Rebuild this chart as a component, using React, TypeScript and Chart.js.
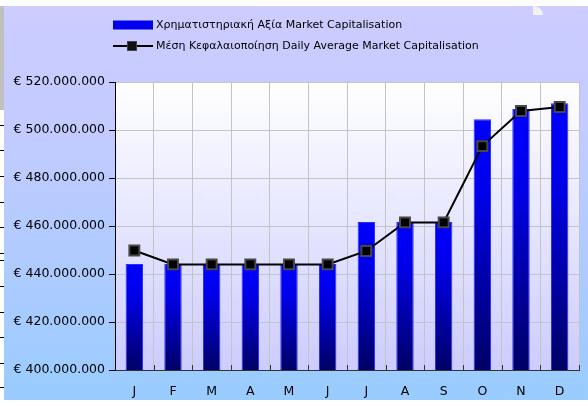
import React, { useEffect, useRef } from "react";
import { Chart, registerables } from "chart.js";

Chart.register(...registerables);

const months = ["J", "F", "M", "A", "M", "J", "J", "A", "S", "O", "N", "D"];
const marketCap = [444.2e6, 444.2e6, 444.2e6, 444.2e6, 444.2e6, 444.2e6, 461.7e6, 461.7e6, 461.7e6, 504.5e6, 508.8e6, 511.1e6];
const dailyAvg = [449.8e6, 444.0e6, 444.0e6, 444.0e6, 444.0e6, 444.0e6, 449.6e6, 461.5e6, 461.5e6, 493.3e6, 507.9e6, 509.6e6];
const barLabel = "Χρηματιστηριακή Αξία Market Capitalisation";
const lineLabel = "Μέση Κεφαλαιοποίηση Daily Average Market Capitalisation";
const yMin = 400e6;
const yMax = 520e6;
const yStep = 20e6;

const FONT = "'DejaVu Sans', sans-serif";

function fmt(v: number): string {
  const s = Math.round(v).toString().replace(/\B(?=(\d{3})+(?!\d))/g, ".");
  return "€ " + s;
}

const plotBgPlugin = {
  id: "plotBg",
  beforeDraw(chart: any) {
    const { ctx, chartArea } = chart;
    if (!chartArea) return;
    const g = ctx.createLinearGradient(0, chartArea.top, 0, chartArea.bottom);
    g.addColorStop(0, "#ffffff");
    g.addColorStop(1, "#ccccff");
    ctx.save();
    ctx.fillStyle = g;
    ctx.fillRect(chartArea.left, chartArea.top, chartArea.right - chartArea.left, chartArea.bottom - chartArea.top);
    ctx.restore();
  },
  afterDraw(chart: any) {
    const { ctx, chartArea } = chart;
    ctx.save();
    ctx.strokeStyle = "#333333";
    ctx.lineWidth = 1;
    const n = months.length;
    const w = (chartArea.right - chartArea.left) / n;
    for (let i = 1; i <= n; i++) {
      const x = Math.round(chartArea.left + i * w) + 0.5;
      ctx.beginPath();
      ctx.moveTo(x, chartArea.bottom - 5);
      ctx.lineTo(x, chartArea.bottom);
      ctx.stroke();
    }
    ctx.restore();
  },
};

const legendPlugin = {
  id: "customLegend",
  afterDraw(chart: any) {
    const { ctx } = chart;
    const ds = chart.data.datasets;
    ctx.save();
    ctx.font = "11px " + FONT;
    ctx.textBaseline = "middle";
    const bx = 113;
    const y1 = 25;
    ctx.fillStyle = "#0000ee";
    ctx.fillRect(bx, y1 - 4.5, 40, 9);
    ctx.fillStyle = "#000";
    ctx.fillText(ds[1].label, 156, y1);
    const y2 = 46;
    ctx.strokeStyle = "#000";
    ctx.lineWidth = 2;
    ctx.beginPath();
    ctx.moveTo(bx, y2);
    ctx.lineTo(bx + 40, y2);
    ctx.stroke();
    ctx.fillStyle = "#111";
    ctx.fillRect(bx + 15, y2 - 4, 8, 8);
    ctx.strokeStyle = "#444";
    ctx.lineWidth = 1;
    ctx.strokeRect(bx + 14.5, y2 - 4.5, 9, 9);
    ctx.fillStyle = "#000";
    ctx.fillText(ds[0].label, 156, y2);
    ctx.restore();
  },
};

export default function App() {
  const ref = useRef<HTMLCanvasElement | null>(null);
  useEffect(() => {
    const canvas = ref.current;
    if (!canvas) return;
    const chart = new Chart(canvas, {
      type: "bar",
      data: {
        labels: months,
        datasets: [
          {
            type: "line",
            label: lineLabel,
            data: dailyAvg,
            borderColor: "#000000",
            borderWidth: 2,
            pointStyle: "rect",
            pointRadius: 7,
            pointBackgroundColor: "#000000",
            pointBorderColor: "#474747",
            pointBorderWidth: 2,
            tension: 0,
            order: 0,
          } as any,
          {
            type: "bar",
            label: barLabel,
            data: marketCap,
            backgroundColor: (c: any) => {
              const chart = c.chart;
              const area = chart.chartArea;
              if (!area || c.raw == null) return "#0000ff";
              const top = chart.scales.y.getPixelForValue(c.raw);
              const g = chart.ctx.createLinearGradient(0, top, 0, area.bottom);
              g.addColorStop(0, "#0000ff");
              g.addColorStop(0.3, "#0000e8");
              g.addColorStop(1, "#000066");
              return g;
            },
            borderColor: "#2a2aff",
            borderWidth: 1,
            barPercentage: 0.45,
            categoryPercentage: 1,
            order: 1,
          } as any,
        ],
      },
      options: {
        responsive: false,
        animation: false,
        devicePixelRatio: 1,
        layout: { padding: { top: 82, right: 6, left: 0, bottom: 0 } },
        plugins: {
          legend: { display: false },
          tooltip: { enabled: false },
        },
        scales: {
          x: {
            offset: true,
            grid: { color: "#c4c4c4", lineWidth: 1, offset: true, drawTicks: false },
            border: { color: "#333333", width: 1 },
            ticks: { color: "#000", font: { family: FONT, size: 12.5 }, padding: 14 },
            afterFit: (s: any) => {
              s.height = 37;
            },
          },
          y: {
            min: yMin,
            max: yMax,
            grid: { color: "#c4c4c4", lineWidth: 1, tickLength: 6, tickColor: "#000" },
            border: { color: "#000", width: 1 },
            ticks: {
              stepSize: yStep,
              color: "#000",
              font: { family: FONT, size: 12.5 },
              padding: 4,
              callback: (v: any) => fmt(Number(v)),
            },
            afterFit: (s: any) => {
              s.width = 115;
            },
          },
        },
      },
      plugins: [plotBgPlugin, legendPlugin],
    });
    return () => chart.destroy();
  }, []);

  const marks = [125, 150, 176, 202, 227, 253, 260, 286, 312, 337, 363, 387];
  return (
    <div style={{ position: "fixed", left: 0, top: 0, width: 588, height: 407, background: "#fff", overflow: "hidden" }}>
      <div style={{ position: "absolute", left: 0, top: 6, width: 4, height: 104, background: "#c0c0c0" }} />
      {marks.map((m, i) => (
        <div key={i} style={{ position: "absolute", left: 0, top: m, width: 4, height: 1, background: "#000" }} />
      ))}
      <div
        style={{
          position: "absolute",
          left: 4,
          top: 6,
          width: 584,
          height: 394,
          background: "linear-gradient(to bottom, #ccccff 0%, #c4cbff 30%, #a9cbff 75%, #99ccff 100%)",
        }}
      />
      <div
        style={{
          position: "absolute",
          left: 533,
          top: 6,
          width: 10,
          height: 9,
          background: "#f2f2f2",
          borderTopRightRadius: 9,
        }}
      />
      <canvas ref={ref} width={588} height={407} style={{ position: "absolute", left: 0, top: 0, width: 588, height: 407 }} />
    </div>
  );
}
